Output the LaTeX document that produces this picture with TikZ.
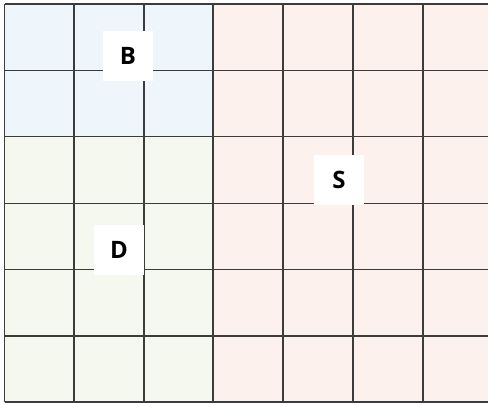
\documentclass[tikz,border=0pt]{standalone}
\usepackage{fontspec}
\setmainfont{Open Sans}
\definecolor{bfill}{HTML}{EEF6FC}
\definecolor{dfill}{HTML}{F5F8EF}
\definecolor{sfill}{HTML}{FDF1EE}
\definecolor{gridc}{HTML}{3C3C3C}
\begin{document}
\begin{tikzpicture}[x=1pt,y=-1pt,
  gridline/.style={draw=gridc,line width=1.3pt},
  lbl/.style={fill=white,minimum width=50pt,minimum height=50pt,inner sep=0pt,font=\fontsize{24}{24}\selectfont\bfseries}]
\useasboundingbox (0,0) rectangle (488,403);
\begin{scope}
\clip (0,0) rectangle (488,403);
\fill[bfill] (4.5,4) rectangle (213,136.5);
\fill[dfill] (4.5,136.5) rectangle (213,402);
\fill[sfill] (213,4) rectangle (500,402);
\foreach \x in {4.5,74,144,213,283,353,423,493}
  \draw[gridline] (\x,4) -- (\x,402);
\foreach \y in {4,70.4,136.8,203.2,269.6,336,402}
  \draw[gridline] (4.5,\y) -- (493,\y);
\end{scope}
\node[lbl] (b) at (128,56) {B};
\node[lbl] (s) at (339,180) {S};
\node[lbl] (d) at (119,250) {D};
\end{tikzpicture}
\end{document}
